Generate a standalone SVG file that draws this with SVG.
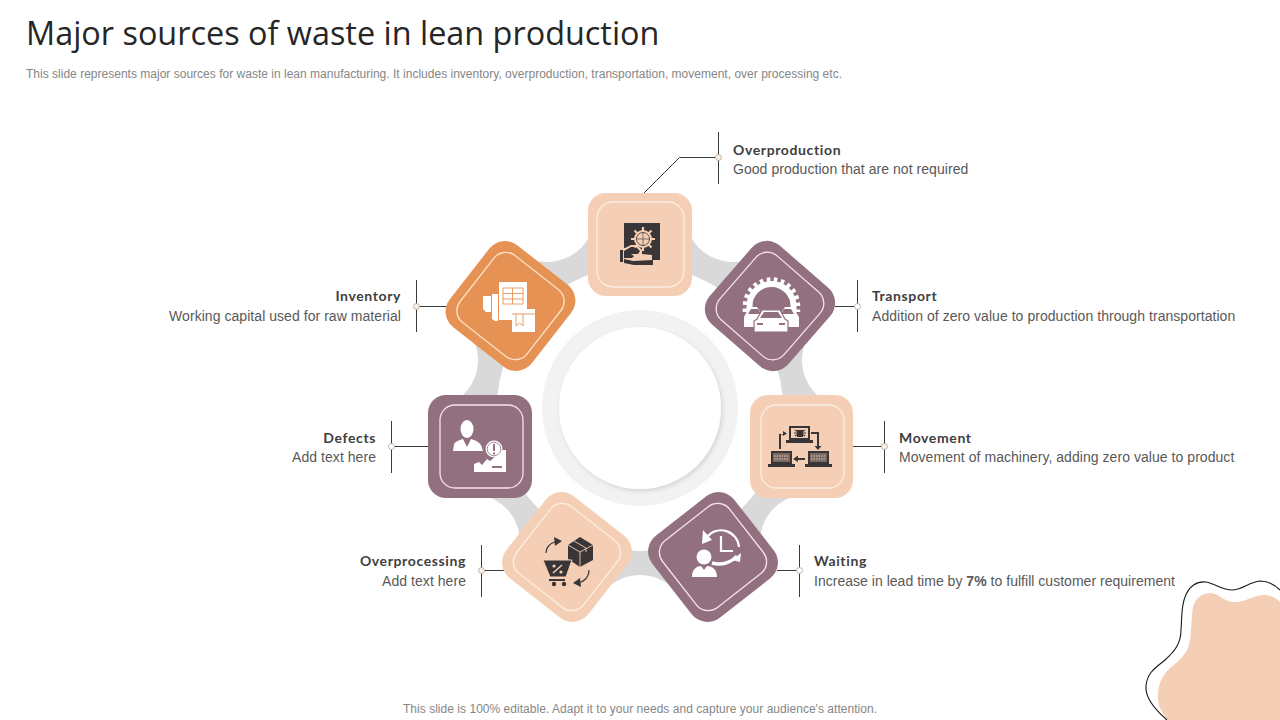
<svg xmlns="http://www.w3.org/2000/svg" width="1280" height="720" viewBox="0 0 1280 720">
<style>
.title{font:32.4px "Open Sans","Noto Sans",sans-serif;fill:#262626}
.sub{font:12px "Liberation Sans",Arial,sans-serif;fill:#868686}
.h{font:bold 14px Lato,"Liberation Sans",sans-serif;fill:#404040;letter-spacing:.62px}
.b{font:14px "Liberation Sans",Arial,sans-serif;fill:#595959;letter-spacing:.05px}
.ln{stroke:#3a3a3a;stroke-width:1;fill:none}
.dot{stroke:#a8a8a0;stroke-width:.8}
.peach{fill:#f4cfb5}.mauve{fill:#92707f}.orange{fill:#e69254}
.in{fill:none;stroke-width:1.3}
.w{fill:#fff}.d{fill:#3a3536}
</style>
<defs>
<filter id="sh" x="-20%" y="-20%" width="140%" height="140%"><feDropShadow dx="1.500" dy="2" stdDeviation="2.200" flood-color="#000" flood-opacity=".13"/></filter>
<mask id="gm" maskUnits="userSpaceOnUse" x="400" y="170" width="480" height="480">
<rect x="400" y="170" width="480" height="480" fill="#000"/>
<circle cx="640" cy="408" r="178" fill="#fff"/>
<circle cx="640" cy="408" r="143" fill="#000"/>
<g fill="#000">
<circle cx="733" cy="214" r="48"/><circle cx="850" cy="360" r="48"/><circle cx="808" cy="542" r="48"/><circle cx="640" cy="623" r="48"/><circle cx="472" cy="542" r="48"/><circle cx="430" cy="360" r="48"/><circle cx="547" cy="214" r="48"/>
</g></mask>
</defs>
<rect width="1280" height="720" fill="#fff"/>
<text class="title" x="26" y="45">Major sources of waste in lean production</text>
<text class="sub" x="26" y="78" textLength="816">This slide represents major sources for waste in lean manufacturing. It includes inventory, overproduction, transportation, movement, over processing etc.</text>

<g id="blob">
<path class="peach" d="M1168 720C1160 712 1157 702 1158 693C1159 684 1161 677 1170 668C1180 660 1186 655 1189 645C1192 632 1191 618 1193 607C1196 597 1203 593 1211 593C1220 594 1224 602 1235 602C1246 602 1254 595 1264 595C1271 595 1276 598 1280 602V720Z"/>
<path fill="none" stroke="#1a1a1a" stroke-width="1.100" d="M1167 720C1152 707 1145 696 1146 686C1147 673 1155 668 1165 660C1175 651 1181 643 1181 630C1182 618 1181 607 1185 597C1189 586 1197 581 1206 582C1216 584 1222 590 1232 590C1242 590 1249 582 1260 581C1268 581 1275 585 1280 590"/>
</g>

<g id="gear"><rect x="400" y="170" width="480" height="480" fill="#d9d9d9" mask="url(#gm)"/></g>
<g id="hub">
<circle cx="640" cy="408" r="98" fill="#f2f2f2"/>
<circle cx="640" cy="408" r="81" fill="#fff" filter="url(#sh)"/>
</g>

<g id="connectors">
<path class="ln" d="M718.500 132V184M718.500 157.500H679.500L644 193"/>
<path class="ln" d="M416.500 280V332M416.500 306.500H447"/>
<path class="ln" d="M857.500 280V332M857.500 306.500H835"/>
<path class="ln" d="M391.500 421V473M391.500 446.500H428"/>
<path class="ln" d="M884.500 421V473M884.500 446.500H853"/>
<path class="ln" d="M481.500 545V597M481.500 570.500H504"/>
<path class="ln" d="M799.500 545V597M799.500 570.500H777"/>
<circle class="dot" cx="718.500" cy="157.500" r="3" fill="#fbeee3"/>
<circle class="dot" cx="416.500" cy="306.500" r="3" fill="#fbeee3"/>
<circle class="dot" cx="857.500" cy="306.500" r="3" fill="#fff"/>
<circle class="dot" cx="391.500" cy="446.500" r="3" fill="#fff"/>
<circle class="dot" cx="884.500" cy="446.500" r="3" fill="#fbeee3"/>
<circle class="dot" cx="481.500" cy="570.500" r="3" fill="#fbeee3"/>
<circle class="dot" cx="799.500" cy="570.500" r="3" fill="#fff"/>
</g>

<g id="node-overproduction">
<rect class="peach" x="588" y="193" width="104" height="103" rx="18"/>
<rect class="in" stroke="#fbeee3" x="597" y="202" width="87" height="85" rx="16"/>
<rect class="d" x="624" y="223" width="36" height="38"/>
<path fill="#f4cfb5" d="M618 248H625L631 245H637L642 250V254L652 255V260H660V268H632L625 266H618Z"/>
<path class="d" d="M620 250H623V262H620ZM624 251L631 247H636L640 251L638 254H631L634 256L632 258L624 258ZM624 259L633 261L653 260V265H634L624 263Z"/>
<g fill="#f4cfb5"><circle cx="643" cy="239" r="9"/><g stroke="#f4cfb5" stroke-width="2.200"><path d="M643 227V251M631 239H655M634.500 230.500L651.500 247.500M651.500 230.500L634.500 247.500"/></g></g>
<circle cx="643" cy="239" r="6.500" fill="none" stroke="#3a3536" stroke-width=".8"/>
<path stroke="#3a3536" stroke-width=".6" d="M643 232V246M636 239H650"/>
</g>

<g id="node-transport">
<rect class="mauve" x="718" y="254" width="104" height="104" rx="20" transform="rotate(41 770 306)"/>
<rect class="in" stroke="#f7e3ea" x="727.500" y="263.500" width="85" height="85" rx="15" transform="rotate(41 770 306)"/>
<path fill="none" stroke="#fff" stroke-width="6" d="M749.500 312V306A22 22 0 0 1 793.500 306V312"/>
<path fill="none" stroke="#fff" stroke-width="4.500" stroke-dasharray="3.600 3.500" d="M745 312V306A26.500 26.500 0 0 1 798 306V312"/>
<path class="w" d="M749 307H757L762 315L757 327H744V317ZM793 307H785L780 315L785 327H799V317Z"/>
<path class="mauve" d="M751 309H758L761 314H748ZM791 309H784L781 314H794Z"/>
<path class="w" stroke="#92707f" stroke-width="1.200" d="M762 310H780L785 319L788 321V332H754V321L757 319Z"/>
<path class="mauve" d="M764 312H778L782 318H760Z"/>
<path class="mauve" d="M757 323H763V325H757ZM779 323H785V325H779Z"/>
</g>

<g id="node-movement">
<rect class="peach" x="750" y="395" width="103" height="103" rx="18"/>
<rect class="in" stroke="#fbeee3" x="761" y="405" width="83" height="83" rx="15"/>
<g class="d">
<path d="M789 426H810V440H813V443H786V440H789ZM791 428V438H808V428Z"/>
<path d="M771 451H792V464H795V467H768V464H771ZM773 453V462H790V453Z"/>
<path d="M808 451H829V464H832V467H805V464H808ZM810 453V462H827V453Z"/>
<path d="M797 430H803V437H797Z"/>
<path stroke="#3a3536" stroke-width="1.200" fill="none" d="M795 430L805 436M805 430L795 436M794 433H806"/>
<path d="M773 453H790V462H773ZM810 453H827V462H810Z" fill="#7a6a63"/>
<path d="M779 449V434H783V431L787 433.500L783 436V434.500H781V449ZM811 432H819V446H821.500L818 450L814.500 446H817V434H811ZM805 458H798V455.500L793 459L798 462V460H805Z"/>
</g>
<g stroke="#f4cfb5" stroke-width=".9" stroke-dasharray="1.500 1"><path d="M774 456H789M774 459H789M811 456H826M811 459H826"/></g>
</g>

<g id="node-waiting">
<rect class="mauve" x="661" y="505" width="104" height="104" rx="20" transform="rotate(-38 713 557)"/>
<rect class="in" stroke="#f7e3ea" x="670.500" y="514.500" width="85" height="85" rx="15" transform="rotate(-38 713 557)"/>
<path fill="none" stroke="#fff" stroke-width="2.200" d="M707 537A18 18 0 0 1 739 547"/>
<path fill="none" stroke="#fff" stroke-width="3.500" d="M712 563C722 566 732 562 737 556"/>
<path class="w" d="M703 530L702 544L712 540ZM732 560L741 553L740 562Z"/>
<path fill="none" stroke="#fff" stroke-width="2.200" d="M721 536V551H733"/>
<circle class="w" cx="704" cy="557" r="7.500"/>
<path class="w" d="M692 577C692 570 696 566 701 566L704 570L707 566C713 566 717 570 717 577Z"/>
</g>

<g id="node-overprocessing">
<rect class="peach" x="515" y="505" width="104" height="104" rx="20" transform="rotate(38 567 557)"/>
<rect class="in" stroke="#fbeee3" x="524.500" y="514.500" width="85" height="85" rx="15" transform="rotate(38 567 557)"/>
<path class="d" d="M580 537L593 545V560L580 567L568 559V545Z"/>
<path fill="none" stroke="#f4cfb5" stroke-width=".9" d="M568 545L580 552L593 545M580 552V567M574 541L586 548V552"/>
<path class="d" stroke="#f4cfb5" stroke-width="1" d="M543 560H572L566 577H550Z"/>
<path class="d" d="M549 579H565V581H549Z"/>
<circle class="d" cx="554" cy="584" r="2.200"/><circle class="d" cx="564" cy="584" r="2.200"/>
<g fill="#f4cfb5"><circle cx="554" cy="566" r="1.600"/><circle cx="561" cy="572" r="1.600"/><path d="M561.500 564.500L562.500 565.500L553.500 573.500L552.500 572.500Z"/></g>
<path fill="none" stroke="#3a3536" stroke-width="1.200" d="M546 553C546 547 551 543 557 541M589 570C589 577 584 582 578 583"/>
<path class="d" d="M554 537L562 541L555 546ZM580 578L573 583L581 587Z"/>
</g>

<g id="node-defects">
<rect class="mauve" x="428" y="395" width="104" height="103" rx="18"/>
<rect class="in" stroke="#f7e3ea" x="440" y="405" width="83" height="83" rx="15"/>
<ellipse class="w" cx="467" cy="429" rx="6.500" ry="9"/>
<path class="w" d="M453 451L454 444C456 441 460 440 463 439L467 447L471 439C475 440 479 442 481 445L483 451Z"/>
<path class="w" d="M474 472V464L479 462L482 465L487 459L490 461L495 457L498 456V450H506V472Z"/>
<circle class="w" cx="494" cy="449" r="8.500"/><circle cx="494" cy="449" r="6.800" fill="none" stroke="#92707f" stroke-width=".8"/>
<path class="mauve" d="M493 444H495V451H493ZM493 452.500H495V454.500H493ZM492 466H502V468H492Z"/>
</g>

<g id="node-inventory">
<rect class="orange" x="458.500" y="254" width="104" height="104" rx="20" transform="rotate(38 510.500 306)"/>
<rect class="in" stroke="#fbe3c4" x="468" y="263.500" width="85" height="85" rx="15" transform="rotate(38 510.500 306)"/>
<path class="w" d="M499 282H527V309H512V320H499ZM492 294H498V321H495L492 319ZM483 296H491V312H486L483 309ZM512 309H535V332H512Z"/>
<path fill="none" stroke="#e69254" stroke-width=".9" d="M503 288H523V304H503ZM503 293.500H523M503 299H523M512.500 288V304M512 314H535M516 314V326L519.500 323L523 326V314"/>
</g>

<g id="labels">
<text class="h" x="733" y="155">Overproduction</text>
<text class="b" x="733" y="174">Good production that are not required</text>
<text class="h" x="872" y="301">Transport</text>
<text class="b" x="872" y="321">Addition of zero value to production through transportation</text>
<text class="h" x="899" y="443">Movement</text>
<text class="b" x="899" y="462">Movement of machinery, adding zero value to product</text>
<text class="h" x="814" y="566">Waiting</text>
<text class="b" x="814" y="586" textLength="361">Increase in lead time by <tspan font-weight="bold">7%</tspan> to fulfill customer requirement</text>
<text class="h" x="401" y="301" text-anchor="end">Inventory</text>
<text class="b" x="401" y="321" text-anchor="end">Working capital used for raw material</text>
<text class="h" x="376" y="443" text-anchor="end">Defects</text>
<text class="b" x="376" y="462" text-anchor="end">Add text here</text>
<text class="h" x="466" y="566" text-anchor="end">Overprocessing</text>
<text class="b" x="466" y="586" text-anchor="end">Add text here</text>
</g>
<text class="sub" x="640" y="713" text-anchor="middle" textLength="474">This slide is 100% editable. Adapt it to your needs and capture your audience's attention.</text>
</svg>
